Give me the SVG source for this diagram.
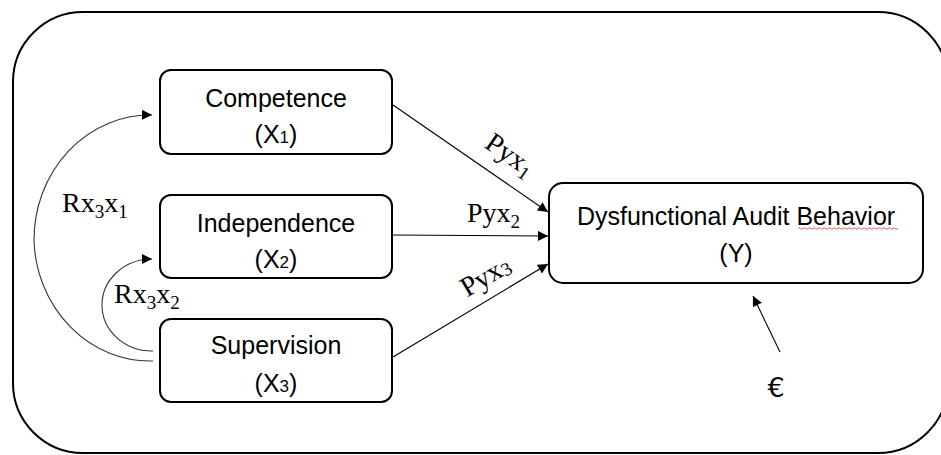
<svg xmlns="http://www.w3.org/2000/svg" width="941" height="455" viewBox="0 0 941 455">
<defs>
<style>
.box{fill:#fff;stroke:#000;stroke-width:2}
.frame{fill:#fff;stroke:#000;stroke-width:2}
.lbl{font-family:"Liberation Sans",Arial,sans-serif;font-size:25px;fill:#000;text-anchor:middle}
.sub{font-size:17px}
.tm{font-family:"Liberation Serif","Times New Roman",serif;font-size:28px;fill:#000}
.tsub{font-size:19px}
.con{fill:none;stroke:#000;stroke-width:1.1}
.arc{fill:none;stroke:#333;stroke-width:1.1}
</style>
<marker id="ah" viewBox="0 0 10 10" refX="10" refY="5" markerWidth="11" markerHeight="10" markerUnits="userSpaceOnUse" orient="auto">
<path d="M0,0 L10,5 L0,10 z" fill="#000"/>
</marker>
</defs>
<rect class="frame" x="13" y="12" width="935" height="441" rx="70" ry="70"/>

<g id="competence">
<rect class="box" x="160" y="70" width="232" height="84" rx="11"/>
<text class="lbl" x="276" y="107">Competence</text>
<text class="lbl" x="276" y="143">(X<tspan class="sub">1</tspan>)</text>
</g>
<g id="independence">
<rect class="box" x="160" y="195" width="232" height="83" rx="11"/>
<text class="lbl" x="276" y="232">Independence</text>
<text class="lbl" x="276" y="268">(X<tspan class="sub">2</tspan>)</text>
</g>
<g id="supervision">
<rect class="box" x="160" y="319" width="232" height="83" rx="11"/>
<text class="lbl" x="276" y="354">Supervision</text>
<text class="lbl" x="276" y="392">(X<tspan class="sub">3</tspan>)</text>
</g>
<g id="behavior">
<rect class="box" x="549" y="183" width="374" height="100" rx="14"/>
<text class="lbl" x="736" y="225">Dysfunctional Audit Behavior</text>
<path d="M798,228.5 q1.25,-1.5 2.5,0 t2.5,0 t2.5,0 t2.5,0 t2.5,0 t2.5,0 t2.5,0 t2.5,0 t2.5,0 t2.5,0 t2.5,0 t2.5,0 t2.5,0 t2.5,0 t2.5,0 t2.5,0 t2.5,0 t2.5,0 t2.5,0 t2.5,0 t2.5,0 t2.5,0 t2.5,0 t2.5,0 t2.5,0 t2.5,0 t2.5,0 t2.5,0 t2.5,0 t2.5,0 t2.5,0 t2.5,0 t2.5,0 t2.5,0 t2.5,0 t2.5,0 t2.5,0 t2.5,0 t2.5,0 t2.5,0" fill="none" stroke="#e03030" stroke-width="0.8"/>
<text class="lbl" x="736" y="262">(Y)</text>
</g>
<g id="error">
<text x="776" y="397" style="font-family:'DejaVu Sans',sans-serif;font-size:27px;fill:#000;text-anchor:middle">€</text>
</g>

<g id="connectors">
<line class="con" x1="393" y1="105" x2="548" y2="212" marker-end="url(#ah)"/>
<line class="con" x1="393" y1="235" x2="548" y2="236" marker-end="url(#ah)"/>
<line class="con" x1="393" y1="357" x2="548" y2="264" marker-end="url(#ah)"/>
<line class="con" x1="780" y1="352" x2="753" y2="296" marker-end="url(#ah)"/>
<path class="arc" d="M153,361 A116,125 0 0 1 34,240 A116,125 0 0 1 152,115" marker-end="url(#ah)"/>
<path class="arc" d="M153,351 A50,46 0 0 1 102,305 A50,46 0 0 1 152,259" marker-end="url(#ah)"/>
</g>

<g id="labels">
<text class="tm" transform="translate(505,162) rotate(34.8)" text-anchor="middle">Pyx<tspan class="tsub" dy="5">1</tspan></text>
<text class="tm" x="467" y="222">Pyx<tspan class="tsub" dy="6">2</tspan></text>
<text class="tm" transform="translate(490,284) rotate(-30.9)" text-anchor="middle">Pyx<tspan class="tsub" dy="2">3</tspan></text>
<text class="tm" x="62" y="212">Rx<tspan class="tsub" dy="6">3</tspan><tspan dy="-6">x</tspan><tspan class="tsub" dy="6">1</tspan></text>
<text class="tm" x="114" y="303">Rx<tspan class="tsub" dy="6">3</tspan><tspan dy="-6">x</tspan><tspan class="tsub" dy="6">2</tspan></text>
</g>
</svg>
